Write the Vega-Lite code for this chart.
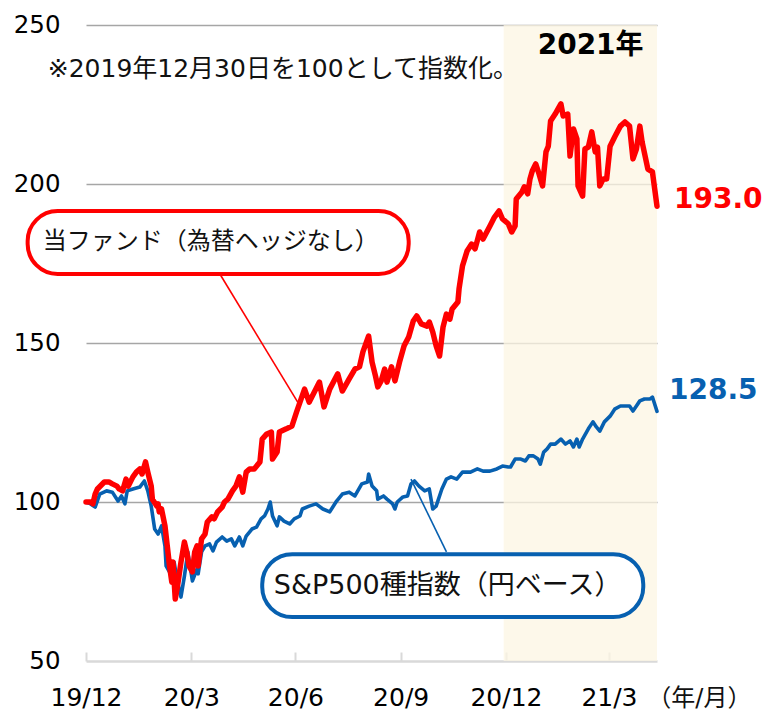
{
  "$schema": "https://vega.github.io/schema/vega-lite/v6.json",
  "autosize": {"type": "none"},
  "width": 571,
  "height": 636,
  "padding": {"left": 86, "top": 25, "right": 111, "bottom": 51},
  "background": "#ffffff",
  "config": {"view": {"stroke": null}, "font": "DejaVu Sans, Noto Sans CJK JP"},
  "data": {"values": [{"k": 1}]},
  "datasets": {
    "fund": [
      {"date": "2019-12-30", "value": 100.0}, {"date": "2020-01-03", "value": 100.0}, {"date": "2020-01-05", "value": 99.4},
      {"date": "2020-01-07", "value": 102.5}, {"date": "2020-01-09", "value": 104.1}, {"date": "2020-01-15", "value": 106.3},
      {"date": "2020-01-19", "value": 106.3}, {"date": "2020-01-22", "value": 105.7}, {"date": "2020-01-26", "value": 105.0},
      {"date": "2020-01-28", "value": 104.1}, {"date": "2020-01-31", "value": 103.5}, {"date": "2020-02-03", "value": 107.2},
      {"date": "2020-02-05", "value": 105.0}, {"date": "2020-02-09", "value": 107.9}, {"date": "2020-02-12", "value": 109.4},
      {"date": "2020-02-15", "value": 110.4}, {"date": "2020-02-17", "value": 108.8}, {"date": "2020-02-20", "value": 112.6},
      {"date": "2020-02-22", "value": 109.4}, {"date": "2020-02-25", "value": 105.0}, {"date": "2020-02-26", "value": 100.9},
      {"date": "2020-03-01", "value": 98.7}, {"date": "2020-03-02", "value": 99.4}, {"date": "2020-03-03", "value": 96.9},
      {"date": "2020-03-05", "value": 97.8}, {"date": "2020-03-08", "value": 92.5}, {"date": "2020-03-10", "value": 86.2},
      {"date": "2020-03-12", "value": 79.9}, {"date": "2020-03-14", "value": 74.8}, {"date": "2020-03-15", "value": 81.1},
      {"date": "2020-03-17", "value": 69.5}, {"date": "2020-03-19", "value": 73.6}, {"date": "2020-03-22", "value": 81.1},
      {"date": "2020-03-25", "value": 87.4}, {"date": "2020-03-27", "value": 84.3}, {"date": "2020-03-29", "value": 79.9},
      {"date": "2020-04-01", "value": 78.0}, {"date": "2020-04-03", "value": 84.3}, {"date": "2020-04-05", "value": 86.2},
      {"date": "2020-04-06", "value": 79.9}, {"date": "2020-04-09", "value": 88.4}, {"date": "2020-04-12", "value": 89.9},
      {"date": "2020-04-14", "value": 93.7}, {"date": "2020-04-18", "value": 95.3}, {"date": "2020-04-20", "value": 94.7},
      {"date": "2020-04-23", "value": 96.9}, {"date": "2020-04-27", "value": 98.4}, {"date": "2020-04-29", "value": 100.0},
      {"date": "2020-05-02", "value": 100.9}, {"date": "2020-05-06", "value": 103.5}, {"date": "2020-05-09", "value": 105.0},
      {"date": "2020-05-12", "value": 107.9}, {"date": "2020-05-15", "value": 103.1}, {"date": "2020-05-18", "value": 109.4},
      {"date": "2020-05-21", "value": 110.4}, {"date": "2020-05-25", "value": 110.4}, {"date": "2020-05-30", "value": 112.6},
      {"date": "2020-06-01", "value": 119.8}, {"date": "2020-06-05", "value": 121.4}, {"date": "2020-06-09", "value": 122.0},
      {"date": "2020-06-10", "value": 113.5}, {"date": "2020-06-14", "value": 115.7}, {"date": "2020-06-16", "value": 122.0},
      {"date": "2020-06-22", "value": 123.0}, {"date": "2020-06-27", "value": 123.9}, {"date": "2020-07-01", "value": 128.3},
      {"date": "2020-07-08", "value": 135.5}, {"date": "2020-07-12", "value": 131.4}, {"date": "2020-07-17", "value": 134.9},
      {"date": "2020-07-21", "value": 137.7}, {"date": "2020-07-25", "value": 129.9}, {"date": "2020-07-30", "value": 135.5},
      {"date": "2020-08-06", "value": 140.3}, {"date": "2020-08-10", "value": 134.9}, {"date": "2020-08-16", "value": 138.7},
      {"date": "2020-08-21", "value": 141.8}, {"date": "2020-08-25", "value": 142.5}, {"date": "2020-08-28", "value": 147.2},
      {"date": "2020-09-02", "value": 152.2}, {"date": "2020-09-05", "value": 144.0}, {"date": "2020-09-08", "value": 139.6},
      {"date": "2020-09-10", "value": 136.2}, {"date": "2020-09-13", "value": 138.1}, {"date": "2020-09-16", "value": 141.8},
      {"date": "2020-09-18", "value": 137.7}, {"date": "2020-09-22", "value": 142.5}, {"date": "2020-09-25", "value": 138.1},
      {"date": "2020-09-29", "value": 144.0}, {"date": "2020-10-03", "value": 149.1}, {"date": "2020-10-07", "value": 151.9},
      {"date": "2020-10-11", "value": 156.9}, {"date": "2020-10-14", "value": 158.5}, {"date": "2020-10-18", "value": 156.0},
      {"date": "2020-10-23", "value": 155.3}, {"date": "2020-10-25", "value": 156.6}, {"date": "2020-10-28", "value": 153.5},
      {"date": "2020-10-31", "value": 149.1}, {"date": "2020-11-03", "value": 145.9}, {"date": "2020-11-06", "value": 155.0},
      {"date": "2020-11-09", "value": 159.1}, {"date": "2020-11-12", "value": 157.5}, {"date": "2020-11-14", "value": 160.7},
      {"date": "2020-11-19", "value": 162.9}, {"date": "2020-11-20", "value": 167.0}, {"date": "2020-11-23", "value": 174.2},
      {"date": "2020-11-27", "value": 178.9}, {"date": "2020-12-01", "value": 181.1}, {"date": "2020-12-04", "value": 179.6},
      {"date": "2020-12-08", "value": 184.9}, {"date": "2020-12-11", "value": 182.7}, {"date": "2020-12-17", "value": 186.8},
      {"date": "2020-12-21", "value": 189.6}, {"date": "2020-12-25", "value": 191.5}, {"date": "2020-12-28", "value": 189.0},
      {"date": "2021-01-02", "value": 187.5}, {"date": "2021-01-05", "value": 184.9}, {"date": "2021-01-08", "value": 186.8},
      {"date": "2021-01-09", "value": 195.3}, {"date": "2021-01-14", "value": 197.5}, {"date": "2021-01-16", "value": 199.1},
      {"date": "2021-01-19", "value": 196.9}, {"date": "2021-01-21", "value": 201.6}, {"date": "2021-01-23", "value": 204.1},
      {"date": "2021-01-26", "value": 206.3}, {"date": "2021-01-29", "value": 203.1}, {"date": "2021-02-01", "value": 199.4},
      {"date": "2021-02-04", "value": 210.1}, {"date": "2021-02-06", "value": 211.9}, {"date": "2021-02-08", "value": 219.8},
      {"date": "2021-02-12", "value": 222.0}, {"date": "2021-02-17", "value": 225.2}, {"date": "2021-02-19", "value": 221.4},
      {"date": "2021-02-23", "value": 222.0}, {"date": "2021-02-25", "value": 208.8}, {"date": "2021-02-28", "value": 217.3},
      {"date": "2021-03-03", "value": 214.2}, {"date": "2021-03-04", "value": 199.4}, {"date": "2021-03-08", "value": 196.2},
      {"date": "2021-03-10", "value": 211.0}, {"date": "2021-03-13", "value": 211.6}, {"date": "2021-03-16", "value": 216.4},
      {"date": "2021-03-19", "value": 210.1}, {"date": "2021-03-21", "value": 211.6}, {"date": "2021-03-23", "value": 199.4},
      {"date": "2021-03-26", "value": 201.6}, {"date": "2021-03-29", "value": 201.6}, {"date": "2021-04-01", "value": 211.9},
      {"date": "2021-04-05", "value": 214.8}, {"date": "2021-04-10", "value": 218.2}, {"date": "2021-04-14", "value": 219.5},
      {"date": "2021-04-18", "value": 218.2}, {"date": "2021-04-21", "value": 207.9}, {"date": "2021-04-24", "value": 211.0},
      {"date": "2021-04-27", "value": 218.2}, {"date": "2021-04-29", "value": 213.2}, {"date": "2021-05-04", "value": 204.7},
      {"date": "2021-05-08", "value": 203.8}, {"date": "2021-05-10", "value": 198.4}, {"date": "2021-05-12", "value": 193.0}
    ],
    "sp": [
      {"date": "2019-12-30", "value": 100.0}, {"date": "2020-01-03", "value": 99.4}, {"date": "2020-01-07", "value": 98.4},
      {"date": "2020-01-11", "value": 102.5}, {"date": "2020-01-17", "value": 103.5}, {"date": "2020-01-22", "value": 103.1},
      {"date": "2020-01-27", "value": 100.3}, {"date": "2020-01-30", "value": 101.9}, {"date": "2020-02-02", "value": 99.4},
      {"date": "2020-02-04", "value": 103.5}, {"date": "2020-02-09", "value": 104.1}, {"date": "2020-02-15", "value": 104.7},
      {"date": "2020-02-19", "value": 106.6}, {"date": "2020-02-22", "value": 103.5}, {"date": "2020-02-25", "value": 98.7},
      {"date": "2020-02-28", "value": 91.5}, {"date": "2020-03-02", "value": 89.9}, {"date": "2020-03-05", "value": 92.5},
      {"date": "2020-03-08", "value": 86.2}, {"date": "2020-03-09", "value": 79.9}, {"date": "2020-03-14", "value": 76.7},
      {"date": "2020-03-16", "value": 81.1}, {"date": "2020-03-19", "value": 74.8}, {"date": "2020-03-22", "value": 70.1},
      {"date": "2020-03-25", "value": 76.7}, {"date": "2020-03-28", "value": 84.3}, {"date": "2020-04-01", "value": 75.2},
      {"date": "2020-04-05", "value": 78.9}, {"date": "2020-04-06", "value": 77.4}, {"date": "2020-04-09", "value": 84.3},
      {"date": "2020-04-12", "value": 86.2}, {"date": "2020-04-16", "value": 86.8}, {"date": "2020-04-19", "value": 84.6},
      {"date": "2020-04-22", "value": 87.4}, {"date": "2020-04-27", "value": 89.0}, {"date": "2020-05-01", "value": 87.7},
      {"date": "2020-05-05", "value": 88.4}, {"date": "2020-05-08", "value": 86.2}, {"date": "2020-05-12", "value": 89.0},
      {"date": "2020-05-15", "value": 86.2}, {"date": "2020-05-18", "value": 89.3}, {"date": "2020-05-23", "value": 91.5},
      {"date": "2020-05-27", "value": 92.1}, {"date": "2020-05-31", "value": 94.7}, {"date": "2020-06-03", "value": 95.6},
      {"date": "2020-06-06", "value": 97.8}, {"date": "2020-06-08", "value": 100.0}, {"date": "2020-06-10", "value": 95.6},
      {"date": "2020-06-14", "value": 92.5}, {"date": "2020-06-16", "value": 95.3}, {"date": "2020-06-20", "value": 94.0},
      {"date": "2020-06-25", "value": 93.1}, {"date": "2020-06-29", "value": 94.7}, {"date": "2020-07-04", "value": 95.6},
      {"date": "2020-07-06", "value": 97.8}, {"date": "2020-07-12", "value": 98.7}, {"date": "2020-07-18", "value": 99.4},
      {"date": "2020-07-24", "value": 97.8}, {"date": "2020-07-30", "value": 96.9}, {"date": "2020-08-05", "value": 100.3},
      {"date": "2020-08-10", "value": 102.5}, {"date": "2020-08-16", "value": 103.1}, {"date": "2020-08-21", "value": 101.9},
      {"date": "2020-08-27", "value": 105.7}, {"date": "2020-09-01", "value": 106.3}, {"date": "2020-09-02", "value": 108.8},
      {"date": "2020-09-05", "value": 105.0}, {"date": "2020-09-09", "value": 103.5}, {"date": "2020-09-10", "value": 100.9},
      {"date": "2020-09-15", "value": 101.9}, {"date": "2020-09-18", "value": 100.9}, {"date": "2020-09-23", "value": 99.4},
      {"date": "2020-09-25", "value": 97.8}, {"date": "2020-09-27", "value": 100.0}, {"date": "2020-10-02", "value": 101.6},
      {"date": "2020-10-06", "value": 101.9}, {"date": "2020-10-09", "value": 105.7}, {"date": "2020-10-12", "value": 106.6},
      {"date": "2020-10-16", "value": 105.0}, {"date": "2020-10-21", "value": 103.5}, {"date": "2020-10-25", "value": 104.1},
      {"date": "2020-10-28", "value": 97.8}, {"date": "2020-10-31", "value": 98.7}, {"date": "2020-11-05", "value": 104.1},
      {"date": "2020-11-09", "value": 107.2}, {"date": "2020-11-13", "value": 107.9}, {"date": "2020-11-18", "value": 107.2},
      {"date": "2020-11-23", "value": 109.4}, {"date": "2020-11-30", "value": 109.4}, {"date": "2020-12-06", "value": 110.4},
      {"date": "2020-12-11", "value": 109.7}, {"date": "2020-12-17", "value": 109.7}, {"date": "2020-12-23", "value": 110.4},
      {"date": "2020-12-28", "value": 111.3}, {"date": "2021-01-02", "value": 111.0}, {"date": "2021-01-04", "value": 111.0},
      {"date": "2021-01-08", "value": 113.5}, {"date": "2021-01-13", "value": 113.5}, {"date": "2021-01-17", "value": 112.9},
      {"date": "2021-01-20", "value": 114.5}, {"date": "2021-01-24", "value": 114.5}, {"date": "2021-01-28", "value": 113.5},
      {"date": "2021-01-30", "value": 111.9}, {"date": "2021-02-02", "value": 115.7}, {"date": "2021-02-05", "value": 116.7},
      {"date": "2021-02-08", "value": 118.2}, {"date": "2021-02-12", "value": 118.2}, {"date": "2021-02-17", "value": 119.8},
      {"date": "2021-02-21", "value": 118.2}, {"date": "2021-02-25", "value": 119.2}, {"date": "2021-02-28", "value": 117.3},
      {"date": "2021-03-03", "value": 119.8}, {"date": "2021-03-05", "value": 117.3}, {"date": "2021-03-08", "value": 119.8},
      {"date": "2021-03-13", "value": 123.0}, {"date": "2021-03-17", "value": 125.2}, {"date": "2021-03-20", "value": 123.6},
      {"date": "2021-03-23", "value": 122.3}, {"date": "2021-03-27", "value": 125.2}, {"date": "2021-04-01", "value": 127.0},
      {"date": "2021-04-05", "value": 129.2}, {"date": "2021-04-10", "value": 130.2}, {"date": "2021-04-14", "value": 130.2},
      {"date": "2021-04-18", "value": 130.2}, {"date": "2021-04-21", "value": 128.6}, {"date": "2021-04-24", "value": 130.2},
      {"date": "2021-04-27", "value": 131.8}, {"date": "2021-05-01", "value": 132.4}, {"date": "2021-05-06", "value": 132.4},
      {"date": "2021-05-08", "value": 133.0}, {"date": "2021-05-12", "value": 128.5}
    ]
  },
  "layer": [
    {
      "mark": {"type": "rect", "fill": "#FCF6E3", "opacity": 0.75},
      "encoding": {
        "x": {"datum": {"year": 2020, "month": 12, "date": 29, "utc": true}, "type": "temporal"},
        "x2": {"datum": {"year": 2021, "month": 5, "date": 12, "utc": true}},
        "y": {"datum": 250, "type": "quantitative"},
        "y2": {"datum": 50}
      }
    },
    {
      "data": {"name": "sp"},
      "mark": {"type": "line", "color": "#0760B0", "strokeWidth": 3.6, "strokeJoin": "round", "strokeCap": "round"},
      "encoding": {
        "x": {
          "field": "date", "type": "temporal",
          "scale": {"type": "utc", "domain": [{"year": 2019, "month": 12, "date": 30, "utc": true}, {"year": 2021, "month": 5, "date": 12, "utc": true}], "nice": false},
          "axis": {
            "title": null,
            "values": [
              {"year": 2019, "month": 12, "date": 30, "utc": true},
              {"year": 2020, "month": 3, "date": 31, "utc": true},
              {"year": 2020, "month": 6, "date": 30, "utc": true},
              {"year": 2020, "month": 9, "date": 30, "utc": true},
              {"year": 2020, "month": 12, "date": 31, "utc": true},
              {"year": 2021, "month": 3, "date": 31, "utc": true}
            ],
            "labelExpr": "utcFormat(datum.value, '%y/%-m')",
            "grid": false, "domain": true, "domainColor": "#d9d9d9", "domainWidth": 2.5,
            "ticks": true, "tickColor": "#d9d9d9", "tickWidth": 2, "tickSize": -9,
            "labelFlush": false, "labelOverlap": false, "labelPadding": 33,
            "labelFont": "DejaVu Sans", "labelFontSize": 25, "labelColor": "#000000"
          }
        },
        "y": {
          "field": "value", "type": "quantitative",
          "scale": {"domain": [50, 250], "nice": false, "zero": false},
          "axis": {
            "title": null, "values": [50, 100, 150, 200, 250],
            "grid": true, "gridColor": {"condition": {"test": "datum.value === 50", "value": "transparent"}, "value": "#a6a6a6"},
            "gridWidth": 1.5, "domain": false, "ticks": false, "labelPadding": 26,
            "labelFont": "DejaVu Sans", "labelFontSize": 24.5, "labelColor": "#000000"
          }
        }
      }
    },
    {
      "data": {"name": "fund"},
      "mark": {"type": "line", "color": "#FF0000", "strokeWidth": 5.5, "strokeJoin": "round", "strokeCap": "round"},
      "encoding": {
        "x": {"field": "date", "type": "temporal"},
        "y": {"field": "value", "type": "quantitative"}
      }
    },
    {
      "mark": {"type": "rule", "color": "#FF0000", "strokeWidth": 1.6},
      "encoding": {
        "x": {"datum": {"year": 2020, "month": 4, "date": 25, "utc": true}, "type": "temporal"},
        "x2": {"datum": {"year": 2020, "month": 7, "date": 2, "utc": true}},
        "y": {"datum": 171.7, "type": "quantitative"},
        "y2": {"datum": 131.4}
      }
    },
    {
      "mark": {"type": "rule", "color": "#0760B0", "strokeWidth": 1.6},
      "encoding": {
        "x": {"datum": {"year": 2020, "month": 11, "date": 9, "utc": true}, "type": "temporal"},
        "x2": {"datum": {"year": 2020, "month": 10, "date": 9, "utc": true}},
        "y": {"datum": 84.3, "type": "quantitative"},
        "y2": {"datum": 107.2}
      }
    },
    {
      "mark": {"type": "rect", "fill": "#ffffff", "stroke": "#FF0000", "strokeWidth": 4, "cornerRadius": 30},
      "encoding": {
        "x": {"datum": {"year": 2019, "month": 11, "date": 9, "utc": true}, "type": "temporal"},
        "x2": {"datum": {"year": 2020, "month": 10, "date": 7, "utc": true}},
        "y": {"datum": 191.5, "type": "quantitative"},
        "y2": {"datum": 171.7}
      }
    },
    {
      "mark": {"type": "rect", "fill": "#ffffff", "stroke": "#0760B0", "strokeWidth": 4, "cornerRadius": 30},
      "encoding": {
        "x": {"datum": {"year": 2020, "month": 6, "date": 1, "utc": true}, "type": "temporal"},
        "x2": {"datum": {"year": 2021, "month": 4, "date": 30, "utc": true}},
        "y": {"datum": 83.6, "type": "quantitative"},
        "y2": {"datum": 63.8}
      }
    },
    {
      "mark": {"type": "text", "font": "DejaVu Sans, Noto Sans CJK JP", "fontSize": 24, "color": "#111111", "align": "center", "baseline": "middle"},
      "encoding": {
        "x": {"datum": {"year": 2020, "month": 4, "date": 17, "utc": true}, "type": "temporal"},
        "y": {"datum": 181.7, "type": "quantitative"},
        "text": {"value": "当ファンド（為替ヘッジなし）"}
      }
    },
    {
      "mark": {"type": "text", "font": "DejaVu Sans, Noto Sans CJK JP", "fontSize": 27, "color": "#111111", "align": "center", "baseline": "middle"},
      "encoding": {
        "x": {"datum": {"year": 2020, "month": 11, "date": 10, "utc": true}, "type": "temporal"},
        "y": {"datum": 73.7, "type": "quantitative"},
        "text": {"value": "S&P500種指数（円ベース）"}
      }
    },
    {
      "mark": {"type": "text", "font": "DejaVu Sans, Noto Sans CJK JP", "fontSize": 25, "color": "#111111", "align": "center", "baseline": "middle"},
      "encoding": {
        "x": {"datum": {"year": 2020, "month": 6, "date": 19, "utc": true}, "type": "temporal"},
        "y": {"datum": 236.2, "type": "quantitative"},
        "text": {"value": "※2019年12月30日を100として指数化。"}
      }
    },
    {
      "mark": {"type": "text", "font": "DejaVu Sans, Noto Sans CJK JP", "fontSize": 28, "fontWeight": "bold", "color": "#000000", "align": "center", "baseline": "middle"},
      "encoding": {
        "x": {"datum": {"year": 2021, "month": 3, "date": 15, "utc": true}, "type": "temporal"},
        "y": {"datum": 243.5, "type": "quantitative"},
        "text": {"value": "2021年"}
      }
    },
    {
      "mark": {"type": "text", "font": "DejaVu Sans", "fontSize": 28, "fontWeight": "bold", "color": "#FF0000", "align": "left", "baseline": "middle", "dx": 17},
      "encoding": {
        "x": {"datum": {"year": 2021, "month": 5, "date": 12, "utc": true}, "type": "temporal"},
        "y": {"datum": 195.0, "type": "quantitative"},
        "text": {"value": "193.0"}
      }
    },
    {
      "mark": {"type": "text", "font": "DejaVu Sans", "fontSize": 28, "fontWeight": "bold", "color": "#0760B0", "align": "left", "baseline": "middle", "dx": 12},
      "encoding": {
        "x": {"datum": {"year": 2021, "month": 5, "date": 12, "utc": true}, "type": "temporal"},
        "y": {"datum": 134.8, "type": "quantitative"},
        "text": {"value": "128.5"}
      }
    },
    {
      "mark": {"type": "text", "font": "DejaVu Sans, Noto Sans CJK JP", "fontSize": 24, "color": "#111111", "align": "center", "baseline": "middle"},
      "encoding": {
        "x": {"datum": {"year": 2021, "month": 6, "date": 18, "utc": true}, "type": "temporal"},
        "y": {"datum": 38.0, "type": "quantitative"},
        "text": {"value": "（年/月）"}
      }
    }
  ]
}
